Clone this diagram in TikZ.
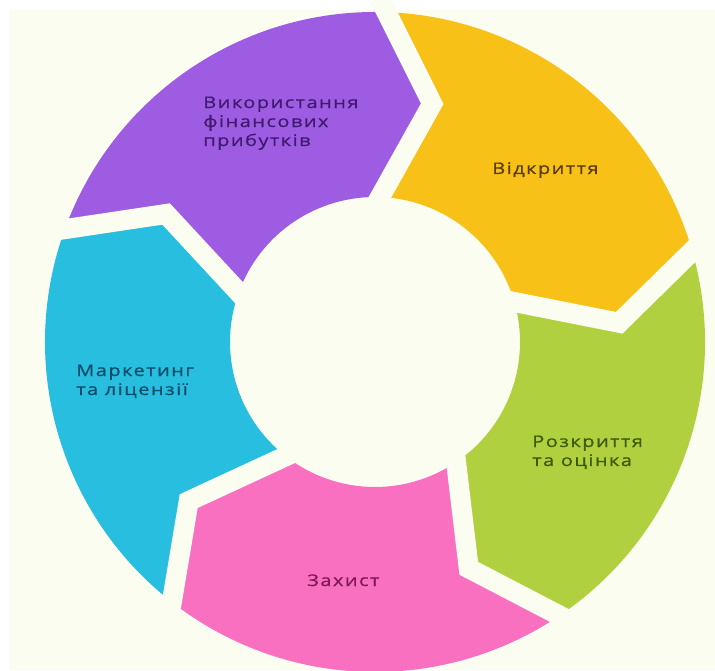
\documentclass[tikz,border=0pt]{standalone}
\usepackage{fontspec}
\setmainfont{Open Sans}
\newfontfamily\lblfont[LetterSpace=9, FakeStretch=1.25, FakeBold=0.6]{Open Sans}
\usetikzlibrary{calc}

\definecolor{bgcream}{HTML}{FCFDF1}
\definecolor{segpurple}{HTML}{9D5CE1}
\definecolor{segyellow}{HTML}{F7C118}
\definecolor{seggreen}{HTML}{B1D03F}
\definecolor{segpink}{HTML}{F870BF}
\definecolor{segcyan}{HTML}{28BEDF}
\definecolor{txtpurple}{HTML}{3F1A6E}
\definecolor{txtyellow}{HTML}{5B3A05}
\definecolor{txtgreen}{HTML}{3C5A08}
\definecolor{txtpink}{HTML}{7D1957}
\definecolor{txtcyan}{HTML}{0D4C69}

% ring geometry (picture units)
\newcommand\RingOut{330}
\newcommand\RingIn{145}
\newcommand\RingMid{245}
\newcommand\TipShift{11.5}

% one arrow-shaped segment of the ring: colour, tail angle, head angle
\newcommand\ringseg[3]{%
  \fill[#1] (#2:\RingOut) arc[start angle=#2, end angle=#3, radius=\RingOut]
    -- ({#3-\TipShift}:\RingMid) -- (#3:\RingIn)
    arc[start angle=#3, end angle=#2, radius=\RingIn]
    -- ({#2-\TipShift}:\RingMid) -- cycle;}

\begin{document}
\begin{tikzpicture}[x=0.025cm, y=0.025cm,
  sepline/.style={draw=bgcream, line width=0.5cm, line join=miter},
  lbl/.style={font=\lblfont\fontsize{11.4}{13.5}\selectfont, align=left,
    inner sep=0pt, anchor=base west}]
  \fill[white] (0,0) rectangle (715,670);
  \fill[bgcream] (9,0) rectangle (715,660);
  \useasboundingbox (0,0) rectangle (715,670);

  \begin{scope}[shift={(375,328)}]
    \ringseg{segpurple}{160}{88}
    \ringseg{segyellow}{88}{16}
    \ringseg{seggreen}{16}{-56}
    \ringseg{segpink}{-56}{-128}
    \ringseg{segcyan}{232}{160}
    % gaps between neighbouring arrows
    \foreach \b in {160,88,16,-56,-128}{
      \draw[sepline] ($({\b-\TipShift}:\RingMid)!1.15!(\b:\RingOut)$)
        -- ({\b-\TipShift}:\RingMid)
        -- ($({\b-\TipShift}:\RingMid)!1.3!(\b:\RingIn)$);
    }
  \end{scope}

  % labels: the anchor sits on the baseline of the last line
  \node[lbl, text=txtpurple] (use) at (203,524) {Використання\\фінансових\\прибутків};
  \node[lbl, text=txtyellow] (disc) at (492,496) {Відкриття};
  \node[lbl, text=txtgreen] (eval) at (532,204) {Розкриття\\та оцінка};
  \node[lbl, text=txtpink] (prot) at (307,84) {Захист};
  \node[lbl, text=txtcyan] (mark) at (76,275) {Маркетинг\\та ліцензії};
\end{tikzpicture}
\end{document}
